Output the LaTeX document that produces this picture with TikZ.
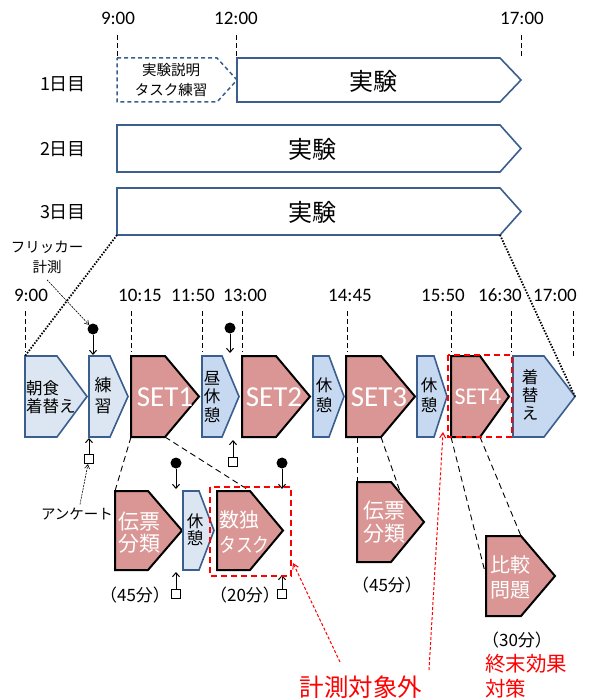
\documentclass[tikz,border=0pt]{standalone}
\usepackage{fontspec}
\setmainfont{Carlito}
\newfontfamily\jp{Noto Sans CJK JP}
\usetikzlibrary{arrows.meta,calc}
\definecolor{bdr}{HTML}{3A5F8E}
\definecolor{fillA}{HTML}{DCE6F2}
\definecolor{fillB}{HTML}{C6D9F1}
\definecolor{setred}{HTML}{D99694}
\newcommand{\pent}[7]{%
  \draw[#2] (#3,#6) coordinate (#1-tl) -- (#4,#6) coordinate (#1-tc) -- (#5,{(#6+#7)/2}) coordinate (#1-tip) -- (#4,#7) coordinate (#1-bc) -- (#3,#7) coordinate (#1-bl) -- cycle;}
\tikzset{
  topbox/.style={draw=bdr, line width=1.6pt, fill=white},
  topdash/.style={draw=bdr, line width=1.5pt, dash pattern=on 4pt off 3pt},
  bluA/.style={draw=bdr, line width=1.6pt, fill=fillA},
  bluB/.style={draw=bdr, line width=1.6pt, fill=fillB},
  redbox/.style={draw=black, line width=2pt, fill=setred},
  tickline/.style={black, line width=0.9pt, dash pattern=on 5pt off 3pt},
  link/.style={black, line width=0.9pt, dash pattern=on 6pt off 4pt},
  dotl/.style={black, line width=1.8pt, dash pattern=on 1.5pt off 1.5pt},
  reddash/.style={red, line width=1.8pt, dash pattern=on 6pt off 4pt},
  redarr/.style={red, line width=1pt, dash pattern=on 3pt off 2pt, -{Straight Barb[length=5pt,width=6pt]}},
  thinarr/.style={black, line width=0.6pt, dash pattern=on 2pt off 1pt, -{Straight Barb[length=4pt,width=5pt]}},
  flk/.style={fill=black, circle, inner sep=0pt, minimum size=11pt},
  svy/.style={draw=black, line width=1.3pt, fill=white, inner sep=0pt, minimum size=9pt},
  marr/.style={black, line width=1pt, -{Straight Barb[length=4pt,width=7pt]}},
  timelbl/.style={font=\fontsize{19}{22}\selectfont},
  daylbl/.style={font=\jp\fontsize{18}{20}\selectfont},
  bigjp/.style={font=\jp\fontsize{24}{28}\selectfont},
  smjp/.style={font=\jp\fontsize{14.5}{20}\selectfont, align=center},
  boxjp/.style={font=\jp\fontsize{16.5}{#1}\selectfont, align=center, inner sep=0pt},
  setlbl/.style={text=white, font=\fontsize{#1}{#1}\selectfont},
  whjp/.style={text=white, align=center, inner sep=0pt, font=\jp\fontsize{21}{22}\selectfont},
  minjp/.style={font=\jp\fontsize{17}{19}\selectfont},
}
\begin{document}
\begin{tikzpicture}[x=1pt,y=-1pt]
\useasboundingbox[fill=white] (0,0) rectangle (588,700);

% ---- top timeline ----
\node[timelbl] (h9) at (118,18) {9:00};
\node[timelbl] (h12) at (236,18) {12:00};
\node[timelbl] (h17) at (522,18) {17:00};
\draw[tickline] (117,35) -- (117,57);
\draw[tickline] (236,35) -- (236,57);
\draw[tickline] (521,35) -- (521,57);

\node[daylbl] (d1) at (63,84) {1日目};
\node[daylbl] (d2) at (63,149) {2日目};
\node[daylbl] (d3) at (63,212) {3日目};

\pent{pre}{topdash}{117}{217}{237}{58}{102}
\pent{e1}{topbox}{237}{500}{521}{58}{102}
\pent{e2}{topbox}{117}{500}{521}{125}{172}
\pent{e3}{topbox}{117}{500}{521}{188}{235}
\node[smjp] (pret) at (171,80) {実験説明\\タスク練習};
\node[bigjp] (e1t) at (373,81) {実験};
\node[bigjp] (e2t) at (312,149) {実験};
\node[bigjp] (e3t) at (312,212) {実験};

% ---- middle timeline ----
\node[timelbl] (m1) at (31,295) {9:00};
\node[timelbl] (m2) at (140,295) {10:15};
\node[timelbl] (m3) at (193,295) {11:50};
\node[timelbl] (m4) at (245,295) {13:00};
\node[timelbl] (m5) at (350,295) {14:45};
\node[timelbl] (m6) at (443,295) {15:50};
\node[timelbl] (m7) at (500,295) {16:30};
\node[timelbl] (m8) at (555,295) {17:00};
\foreach \x in {25,131,202,242,347,451,511} \draw[tickline] (\x,311) -- (\x,352);
\draw[tickline] (573,311) -- (573,356);

\pent{b1}{bluA}{25}{57}{87}{356}{437}
\pent{b2}{bluA}{89}{110}{128}{356}{437}
\pent{b3}{redbox}{131}{165}{199}{356}{437}
\pent{b4}{bluB}{202}{222}{239}{356}{437}
\pent{b5}{redbox}{242}{276}{310}{356}{437}
\pent{b6}{bluB}{313}{329}{344}{356}{437}
\pent{b7}{redbox}{346}{381}{415}{356}{437}
\pent{b8}{bluB}{417}{434}{447}{356}{437}
\pent{b9}{redbox}{451}{480}{509}{356}{437}
\pent{b10}{bluB}{513}{544}{575}{356}{437}

\node[boxjp=17.5, align=left, anchor=west] (b1t) at (26,397) {朝食\\着替え};
\node[font=\jp\fontsize{17}{21}\selectfont, align=center, inner sep=0pt] (b2t) at (103,396) {練\\習};
\node[boxjp=18.5] (b4t) at (212,397) {昼\\休\\憩};
\node[boxjp=20] (b6t) at (324,395) {休\\憩};
\node[boxjp=20] (b8t) at (429,395) {休\\憩};
\node[boxjp=18] (b10t) at (530,395) {着\\替\\え};
\node[setlbl=29] (b3t) at (165,397) {SET1};
\node[setlbl=29] (b5t) at (274,397) {SET2};
\node[setlbl=29] (b7t) at (379,397) {SET3};
\node[setlbl=24] (b9t) at (478,397) {SET4};

% zoom-in dotted lines
\draw[dotl] (e3-bl) -- (b1-tl);
\draw[dotl] (e3-bc) -- (b10-tip);

% flicker & survey markers (middle)
\node[smjp] (flab) at (47,257) {フリッカー\\計測};
\node[flk] (f1) at (93,329) {};
\node[flk] (f2) at (230,328) {};
\draw[thinarr] ([yshift=-3pt]flab.south) -- (f1);
\draw[marr] (f1) -- (93,355);
\draw[marr] (f2) -- (230,353);
\node[svy] (s1) at (89,459) {};
\node[svy] (s2) at (233,462) {};
\draw[marr] (s1) -- (89,438);
\draw[marr] (s2) -- (233,440);
\node[font=\jp\fontsize{14.5}{16}\selectfont] (anq) at (77,514) {アンケート};
\draw[thinarr] ([xshift=3pt]anq.north) -- (s1);

% ---- lower boxes ----
\pent{c1}{redbox}{115}{148}{182}{491}{570}
\pent{c2}{bluA}{183}{199}{214}{491}{570}
\pent{c3}{redbox}{217}{250}{283}{491}{570}
\pent{c4}{redbox}{357}{391}{424}{482}{562}
\pent{c5}{redbox}{486}{521}{555}{536}{616}

\node[whjp] (c1t) at (139,533) {伝票\\分類};
\node[boxjp=17] (c2t) at (195,530) {休\\憩};
\node[text=white, align=left, inner sep=0pt, anchor=west, font=\jp\fontsize{20}{25}\selectfont] (c3t) at (219,532) {数独\\\scalebox{0.84}[1]{タスク}};
\node[text=white, align=center, inner sep=0pt, font=\jp\fontsize{21}{23}\selectfont] (c4t) at (384,522) {伝票\\分類};
\node[text=white, align=center, inner sep=0pt, font=\jp\fontsize{20}{25}\selectfont] (c5t) at (510,577) {比較\\問題};

\draw[link] (b3-bl) -- (c1-tl);
\draw[link] (b3-bc) -- (c3-tc);
\draw[link] (c4-tl |- b7-bl) -- (c4-tl);
\draw[link] (b7-bc) -- ($(c4-tc)!0.3!(c4-tip)$);
\draw[link, shorten >=5pt] (b9-bl) -- ($(c5-tl)!0.5!(c5-bl)$);
\draw[link] (b9-bc) -- (c5-tc);

\node[flk] (f3) at (176,463) {};
\node[flk] (f4) at (282,463) {};
\draw[marr] (f3) -- (176,489);
\draw[marr] (f4) -- (282,489);
\node[svy] (s3) at (176,594) {};
\node[svy] (s4) at (282,594) {};
\draw[marr] (s3) -- (176,572);
\draw[marr] (s4) -- (282,575);

\node[minjp] (p1) at (135,595) {（45分）};
\node[minjp] (p2) at (245,595) {（20分）};
\node[minjp] (p3) at (387,585) {（45分）};
\node[minjp] (p4) at (517,640) {（30分）};
\node[text=red, align=left, anchor=west, inner sep=0pt, font=\jp\fontsize{20.5}{25}\selectfont] (end) at (485,676) {終末効果\\対策};

% ---- excluded from measurement ----
\draw[reddash] (448,355) rectangle (512,437);
\draw[reddash] (210,487) rectangle (291,576);
\coordinate (ra) at (293,563);
\coordinate (rb) at (443,432);
\node[text=red, font=\jp\fontsize{24.5}{28}\selectfont] (ex) at (361,687) {計測対象外};
\draw[redarr] (340,662) -- (ra);
\draw[redarr] (429,670) -- (rb);
\end{tikzpicture}
\end{document}
